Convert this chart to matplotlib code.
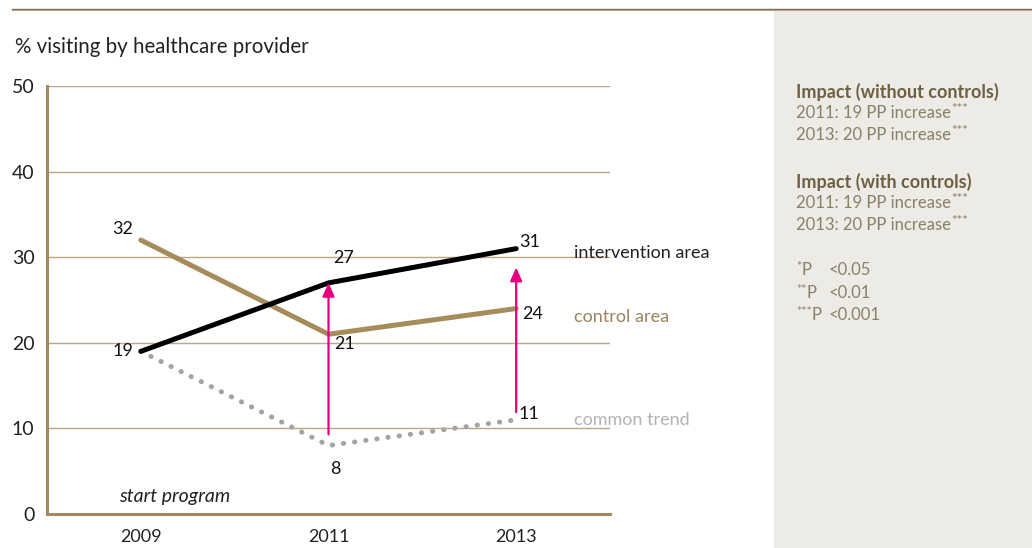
import matplotlib
matplotlib.use("Agg")
import matplotlib.pyplot as plt
from matplotlib.patches import Rectangle
from matplotlib.lines import Line2D

plt.rcParams['font.family'] = ['Lato', 'DejaVu Sans']

# Data
years = [2009, 2011, 2013]
intervention = [19, 27, 31]
control = [32, 21, 24]
common_trend = [19, 8, 11]
arrow_years = [2011, 2013]
arrow_start = [9.3, 11.9]
arrow_end = [27, 28.8]
y_ticks = [0, 10, 20, 30, 40, 50]

title = "% visiting by healthcare provider"
series_names = ["intervention area", "control area", "common trend"]
panel_heads = ["Impact (without controls)", "Impact (with controls)"]
panel_rows = [["2011: 19 PP increase", "2013: 20 PP increase"],
              ["2011: 19 PP increase", "2013: 20 PP increase"]]
sig_keys = [("*P", "<0.05"), ("**P", "<0.01"), ("***P", "<0.001")]

W, H = 1032, 548
fig = plt.figure(figsize=(W / 100, H / 100), dpi=100)

TAN = "#a68b5b"
GRID = "#bba883"
SPINE = "#a08a60"
BLACK = "#000000"
GREY = "#a3a3a3"
LIGHTGREY = "#b3b3b3"
MAGENTA = "#e5007d"
PANEL = "#ecebe6"
HEAD = "#6f5f42"
BODY = "#8c7f68"

# side panel and top rule
fig.patches.append(Rectangle((774 / W, 0), (W - 774) / W, (H - 10) / H,
                             transform=fig.transFigure, facecolor=PANEL,
                             edgecolor="none", zorder=0))
fig.lines.append(Line2D([12 / W, 1032 / W], [1 - 10.3 / H, 1 - 10.3 / H],
                        transform=fig.transFigure, color="#c9bb9c", lw=0.9))
fig.lines.append(Line2D([12 / W, 1032 / W], [1 - 9.2 / H, 1 - 9.2 / H],
                        transform=fig.transFigure, color="#7b6b52", lw=1.0))

ax = fig.add_axes([47 / W, (H - 514) / H, (610 - 47) / W, (514 - 86) / H])
ax.set_xlim(2008, 2014)
ax.set_ylim(0, 50)
ax.patch.set_alpha(0)

for s in ["top", "right"]:
    ax.spines[s].set_visible(False)
for s in ["left", "bottom"]:
    ax.spines[s].set_color(SPINE)
    ax.spines[s].set_linewidth(2.2)

for v in y_ticks[1:]:
    ax.axhline(v, color=GRID, lw=1.0, zorder=1)

ax.set_yticks(y_ticks)
ax.set_yticklabels([str(v) for v in y_ticks], fontsize=14, color="#222222")
ax.set_xticks(years)
ax.set_xticklabels([str(y) for y in years], fontsize=13, color="#222222")
ax.tick_params(axis="both", length=0)
ax.tick_params(axis="y", pad=9)
ax.tick_params(axis="x", pad=11)

# series
ax.plot(years, control, color=TAN, lw=3.6, solid_capstyle="round",
        solid_joinstyle="miter", zorder=3)
ax.plot(years, intervention, color=BLACK, lw=3.6, solid_capstyle="round",
        solid_joinstyle="miter", zorder=4)
ax.plot(years, common_trend, color=GREY, lw=3.6, linestyle=(0, (0.05, 2.2)),
        dash_capstyle="round", zorder=3)

# impact arrows
for x, y0, y1 in zip(arrow_years, arrow_start, arrow_end):
    ax.annotate("", xy=(x, y1), xytext=(x, y0),
                arrowprops=dict(arrowstyle="-|>,head_length=0.8,head_width=0.36",
                                color=MAGENTA, lw=1.6, shrinkA=0, shrinkB=0),
                zorder=5)

# value labels
label_offsets = {
    "intervention": [(-18, 0), (15, 25), (13, 7)],
    "control": [(-18, 11), (16, -10), (16, -5)],
    "common": [None, (7, -23), (13, 6)],
}
for key, vals in [("intervention", intervention), ("control", control),
                  ("common", common_trend)]:
    for x, v, off in zip(years, vals, label_offsets[key]):
        if off is None:
            continue
        ax.annotate(str(v), xy=(x, v), xytext=off, textcoords="offset pixels",
                    ha="center", va="center", fontsize=13, color="#111111",
                    zorder=6)

# series names
for name, y, c in zip(series_names, [30.45, 23.0, 11.0],
                      ["#222222", "#9a8360", LIGHTGREY]):
    ax.text(2013.62, y, name, fontsize=13, color=c, ha="left", va="center",
            clip_on=False)

ax.text(2008.77, 2.0, "start program", fontsize=14, style="italic",
        color="#222222", ha="left", va="center")

fig.text(15 / W, 1 - 47 / H, title, fontsize=14.8, color="#222222",
         ha="left", va="center")

# side panel text
fig.canvas.draw()
renderer = fig.canvas.get_renderer()


def y_fig(py):
    return 1 - py / H


def row_with_stars(px, py, s):
    t = fig.text(px / W, y_fig(py), s, fontsize=12, color=BODY,
                 ha="left", va="center")
    bb = t.get_window_extent(renderer)
    fig.text(bb.x1 / W, y_fig(py - 4), "***", fontsize=9.5,
             color=BODY, ha="left", va="center")


head_y = [92, 182]
for hy, head, rows in zip(head_y, panel_heads, panel_rows):
    fig.text(796 / W, y_fig(hy), head, fontsize=13, fontweight="bold",
             color=HEAD, ha="left", va="center")
    for i, r in enumerate(rows):
        row_with_stars(796, hy + 21 + i * 22, r)

for i, (k, v) in enumerate(sig_keys):
    py = 270 + i * 22.5
    stars = k[:-1]
    st = fig.text(796 / W, y_fig(py - 3), stars, fontsize=9, color=BODY,
                  ha="left", va="center")
    bb = st.get_window_extent(renderer)
    fig.text(bb.x1 / W, y_fig(py), "P", fontsize=12, color=BODY,
             ha="left", va="center")
    fig.text(829 / W, y_fig(py), v, fontsize=12, color=BODY,
             ha="left", va="center")

fig.savefig("out.png", dpi=100)
